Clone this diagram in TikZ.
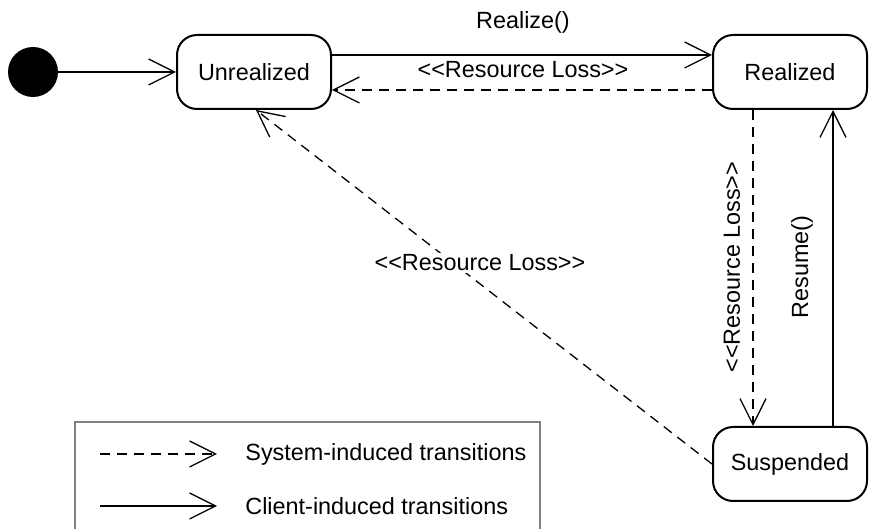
\documentclass[tikz,border=0pt]{standalone}
\usepackage{fontspec}
\setmainfont{Liberation Sans}[Ligatures=TeXOff]
\usetikzlibrary{arrows.meta}
\tikzset{
  state/.style={draw,line width=1pt,rounded corners=10pt,minimum width=77pt,minimum height=37pt,inner sep=0pt,font=\fontsize{11.7}{13}\selectfont},
  trans/.style={line width=0.65pt,-{Straight Barb[length=13pt,width=13pt,line width=0.65pt]}},
  sysdash/.style={dash pattern=on 5pt off 3.5pt},
  lbl/.style={font=\fontsize{11.7}{13}\selectfont,inner sep=1pt}
}
\begin{document}
\begin{tikzpicture}[x=0.5pt,y=-0.5pt]
  \useasboundingbox (0,0) rectangle (869,529);
  % states
  \node[circle,fill=black,minimum size=25pt,inner sep=0pt] (init) at (33,72) {};
  \node[state] (unreal) at (254,72) {Unrealized};
  \node[state] (real) at (790,72) {Realized};
  \node[state] (susp) at (790,464) {Suspended};
  % transitions
  \draw[trans] (init) -- (unreal);
  \draw[trans] ([yshift=8.5pt]unreal.east) -- ([yshift=8.5pt]real.west);
  \draw[trans,sysdash] ([yshift=-9pt]real.west) -- ([yshift=-9pt]unreal.east);
  \draw[trans,sysdash] ([xshift=-18.5pt]real.south) -- ([xshift=-18.5pt]susp.north);
  \draw[trans] ([xshift=21.5pt]susp.north) -- ([xshift=21.5pt]real.south);
  \draw[trans,sysdash] (susp.west) -- ([xshift=1pt]unreal.south);
  % labels
  \node[lbl] (lrealize) at (523,22) {Realize()};
  \node[lbl] (lloss1) at (523,70) {<<Resource Loss>>};
  \node[lbl,rotate=90] (lloss2) at (732,267) {<<Resource Loss>>};
  \node[lbl,rotate=90] (lresume) at (802,267) {Resume()};
  \node[lbl,fill=white] (lloss3) at (480,263) {<<Resource Loss>>};
  % legend
  \draw[gray,line width=0.6pt] (75,560) |- (540,422) -- (540,560);
  \coordinate (sysA) at (100,454);
  \coordinate (sysB) at (217,454);
  \coordinate (cliA) at (100,506);
  \coordinate (cliB) at (217,506);
  \draw[trans,sysdash] (sysA) -- (sysB);
  \draw[trans] (cliA) -- (cliB);
  \node[lbl,anchor=west] (lsys) at (243,454) {System-induced transitions};
  \node[lbl,anchor=west] (lcli) at (243,506) {Client-induced transitions};
\end{tikzpicture}
\end{document}
